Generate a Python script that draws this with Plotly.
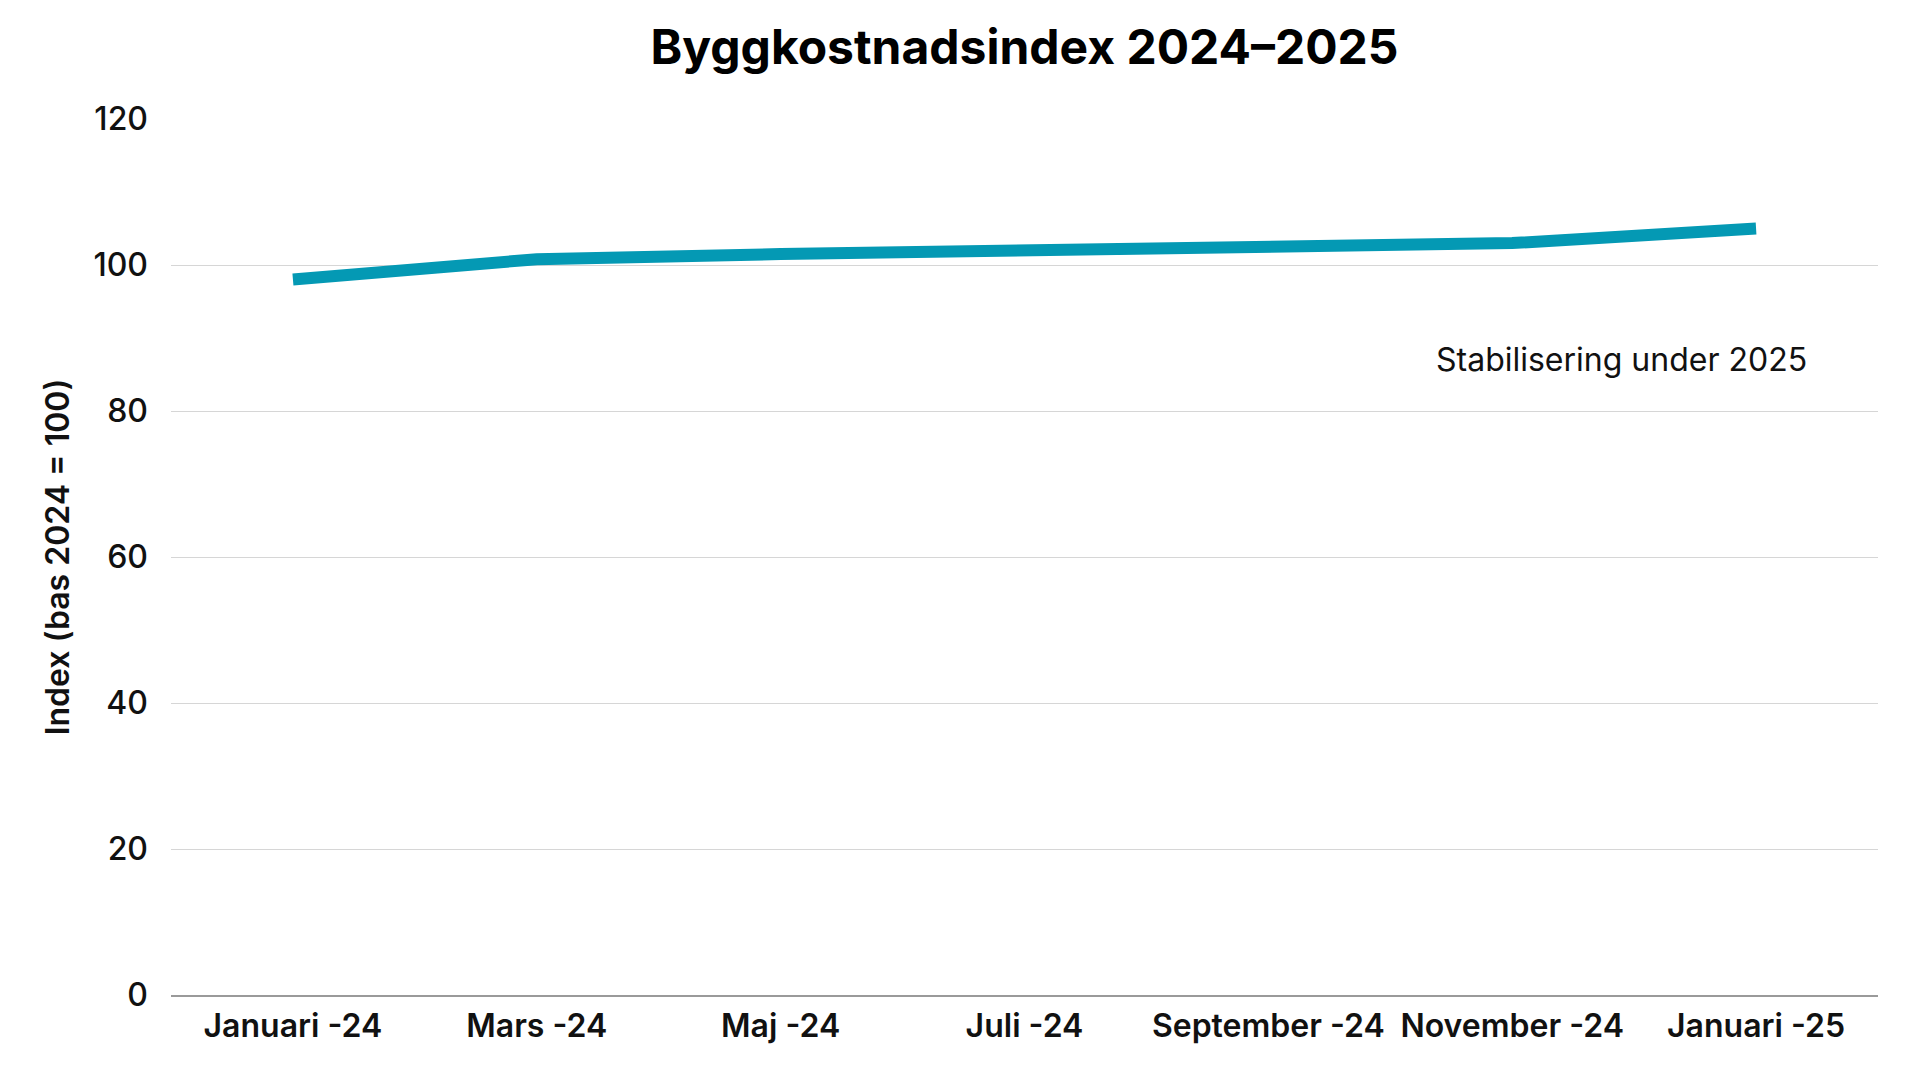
import plotly.graph_objects as go

months = ["Januari -24", "Mars -24", "Maj -24", "Juli -24", "September -24", "November -24", "Januari -25"]
index_values = [98.0, 100.8, 101.5, 102.0, 102.5, 103.0, 105.0]
y_ticks = [0, 20, 40, 60, 80, 100, 120]

title_text = "Byggkostnadsindex 2024–2025"
y_title = "Index (bas 2024 = 100)"
note_text = "Stabilisering under 2025"
note_x = 5.45
note_y = 87

LINE = "#0499b4"
FONT = "Inter"

fig = go.Figure()
fig.add_trace(go.Scatter(
    x=months, y=index_values, mode="lines",
    line=dict(color=LINE, width=12, shape="linear"),
    showlegend=False, hoverinfo="x+y",
))

fig.add_annotation(
    x=note_x, y=note_y, xref="x", yref="y", text=note_text, showarrow=False,
    font=dict(family=FONT, size=32, color="#111111"), xanchor="center", yanchor="middle",
)

fig.update_layout(
    width=1920, height=1080,
    paper_bgcolor="white", plot_bgcolor="white",
    margin=dict(l=163, r=50, t=111, b=93),
    title=dict(text=title_text, xref="paper", x=0.5, xanchor="center", y=1 - 39 / 1080, yanchor="middle",
               font=dict(family=FONT, size=48, color="#000000", weight=700)),
    xaxis=dict(
        type="category", range=[-0.5, 6.5],
        showgrid=False, showline=True, linecolor="#9a9a9a", linewidth=1.5,
        ticks="", ticklabelstandoff=2,
        tickfont=dict(family=FONT, size=32, color="#111111", weight=600),
    ),
    yaxis=dict(
        range=[0, 120], tickvals=y_ticks, showgrid=True, gridcolor="#d6d6d6", gridwidth=1,
        zeroline=False, showline=False, ticks="", ticklabelstandoff=22,
        tickfont=dict(family=FONT, size=32, color="#111111", weight=500),
        title=dict(text=y_title, font=dict(family=FONT, size=32, color="#111111", weight=600), standoff=14),
    ),
)

fig.write_html("out.html")
